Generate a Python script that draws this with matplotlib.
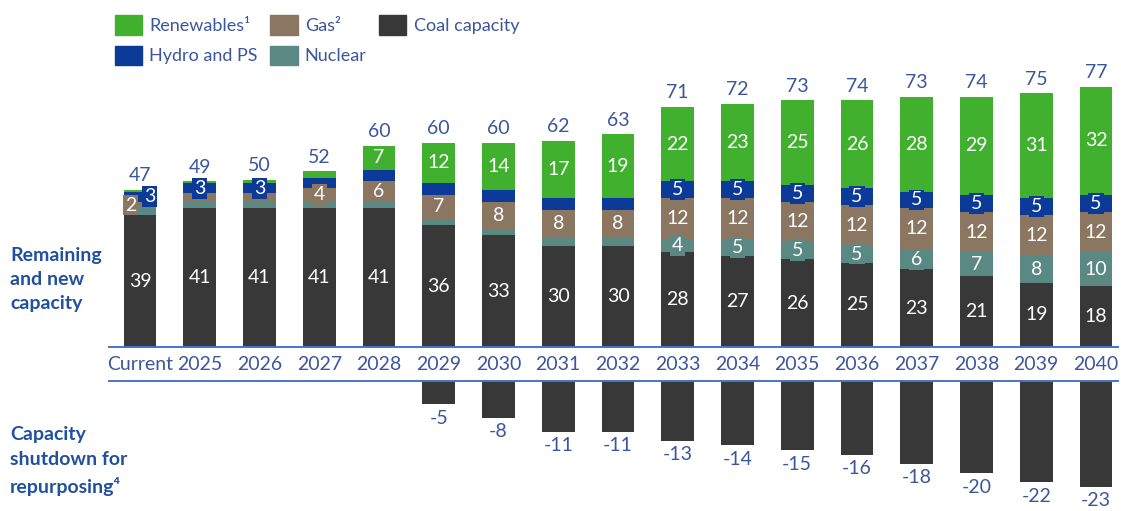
import numpy as np
import matplotlib.pyplot as plt
from matplotlib.patches import Patch

plt.rcParams['font.family'] = ['Lato', 'DejaVu Sans']

years = ['Current', '2025', '2026', '2027', '2028', '2029', '2030', '2031', '2032',
         '2033', '2034', '2035', '2036', '2037', '2038', '2039', '2040']
coal = [39, 41, 41, 41, 41, 36, 33, 30, 30, 28, 27, 26, 25, 23, 21, 19, 18]
nuclear = [2, 2, 2, 2, 2, 2, 2, 2.5, 2.5, 4, 5, 5, 5, 6, 7, 8, 10]
gas = [2, 2.5, 2.5, 4, 6, 7, 8, 8, 8, 12, 12, 12, 12, 12, 12, 12, 12]
hydro = [3, 3, 3, 3, 3.5, 3.5, 3.5, 3.5, 3.5, 5, 5, 5, 5, 5, 5, 5, 5]
renew = [0.5, 0.5, 1, 2, 7, 12, 14, 17, 19, 22, 23, 25, 26, 28, 29, 31, 32]
totals = [47, 49, 50, 52, 60, 60, 60, 62, 63, 71, 72, 73, 74, 73, 74, 75, 77]
shutdown = [0, 0, 0, 0, 0, -5, -8, -11, -11, -13, -14, -15, -16, -18, -20, -22, -23]

# which segments carry a label (None = no label)
coal_lbl = coal
nuclear_lbl = [None] * 9 + [4, 5, 5, 5, 6, 7, 8, 10]
gas_lbl = [2, None, None, 4, 6, 7, 8, 8, 8, 12, 12, 12, 12, 12, 12, 12, 12]
hydro_lbl = [3, 3, 3] + [None] * 6 + [5] * 8
renew_lbl = [None] * 4 + [7, 12, 14, 17, 19, 22, 23, 25, 26, 28, 29, 31, 32]

c_coal = '#383838'
c_nuc = '#5a8984'
c_gas = '#8a7661'
c_hydro = '#0b3a98'
c_ren = '#41b02f'
c_txt = '#3b569c'
c_bold = '#2150a0'
c_line = '#4a74c4'

W, H = 1121, 511
fig = plt.figure(figsize=(W / 100, H / 100), dpi=100)

x = np.arange(len(years))
bw = 0.55
xl = ((109 - 140) / 59.75, (1118 - 140) / 59.75)

ax = fig.add_axes([109 / W, (H - 347) / H, 1009 / W, 347 / H])
ax.set_xlim(*xl)
ax.set_ylim(0, 347 / 3.38)

segs = [(coal, coal_lbl, c_coal), (nuclear, nuclear_lbl, c_nuc), (gas, gas_lbl, c_gas),
        (hydro, hydro_lbl, c_hydro), (renew, renew_lbl, c_ren)]
bottom = np.zeros(len(years))
for vals, lbls, col in segs:
    vals = np.array(vals, dtype=float)
    ax.bar(x, vals, bw, bottom=bottom, color=col, linewidth=0)
    for i in range(len(years)):
        if lbls[i] is None:
            continue
        dx = 0
        if i == 0 and col == c_gas:
            dx = -0.16
        if i == 0 and col == c_hydro:
            dx = 0.16
        ax.text(x[i] + dx, bottom[i] + vals[i] / 2, str(lbls[i]), ha='center', va='center',
                color='white', fontsize=14,
                bbox=dict(boxstyle='square,pad=0.1', fc=col, ec='none'))
    bottom += vals

for i in range(len(years)):
    ax.annotate(str(totals[i]), (x[i], bottom[i]), xytext=(0, 4), textcoords='offset points',
                ha='center', va='bottom', color=c_txt, fontsize=14)

ax.set_xticks([])
ax.set_yticks([])
for s in ['top', 'left', 'right']:
    ax.spines[s].set_visible(False)
ax.spines['bottom'].set_color(c_line)
ax.spines['bottom'].set_linewidth(1.4)

ax2 = fig.add_axes([109 / W, 0, 1009 / W, 130 / H])
ax2.set_xlim(*xl)
ax2.set_ylim(-130 / 4.6, 0)
ax2.bar(x, shutdown, bw, color=c_coal, linewidth=0)
for i in range(len(years)):
    if shutdown[i] == 0:
        continue
    ax2.annotate(str(shutdown[i]), (x[i], shutdown[i]), xytext=(0, -4), textcoords='offset points',
                 ha='center', va='top', color=c_txt, fontsize=14)
ax2.set_xticks([])
ax2.set_yticks([])
for s in ['bottom', 'left', 'right']:
    ax2.spines[s].set_visible(False)
ax2.spines['top'].set_color(c_line)
ax2.spines['top'].set_linewidth(1.4)

# year labels between the two lines
for i in range(len(years)):
    fig.text((109 + (x[i] - xl[0]) * 59.75) / W, 1 - 364 / H, years[i], ha='center', va='center',
             color=c_txt, fontsize=14)

fig.text(10 / W, 1 - 279 / H, 'Remaining\nand new\ncapacity', ha='left', va='center',
         color=c_bold, fontsize=14, fontweight='bold', linespacing=1.5)
fig.text(10 / W, 1 - 461 / H, 'Capacity\nshutdown for\nrepurposing\u2074', ha='left', va='center',
         color=c_bold, fontsize=14, fontweight='bold', linespacing=1.55)

handles = [Patch(color=c_ren), Patch(color=c_hydro), Patch(color=c_gas),
           Patch(color=c_nuc), Patch(color=c_coal)]
labels = ['Renewables\u00b9', 'Hydro and PS', 'Gas\u00b2', 'Nuclear', 'Coal capacity']
leg = fig.legend(handles, labels, ncol=3, loc='upper left', bbox_to_anchor=(115 / W, 1 - 15 / H),
                 frameon=False, fontsize=13, handlelength=1.5, handleheight=1.3,
                 handletextpad=0.4, columnspacing=0.7, labelspacing=0.6, borderpad=0,
                 borderaxespad=0)
for t in leg.get_texts():
    t.set_color(c_txt)

fig.savefig('out.png', dpi=100)
